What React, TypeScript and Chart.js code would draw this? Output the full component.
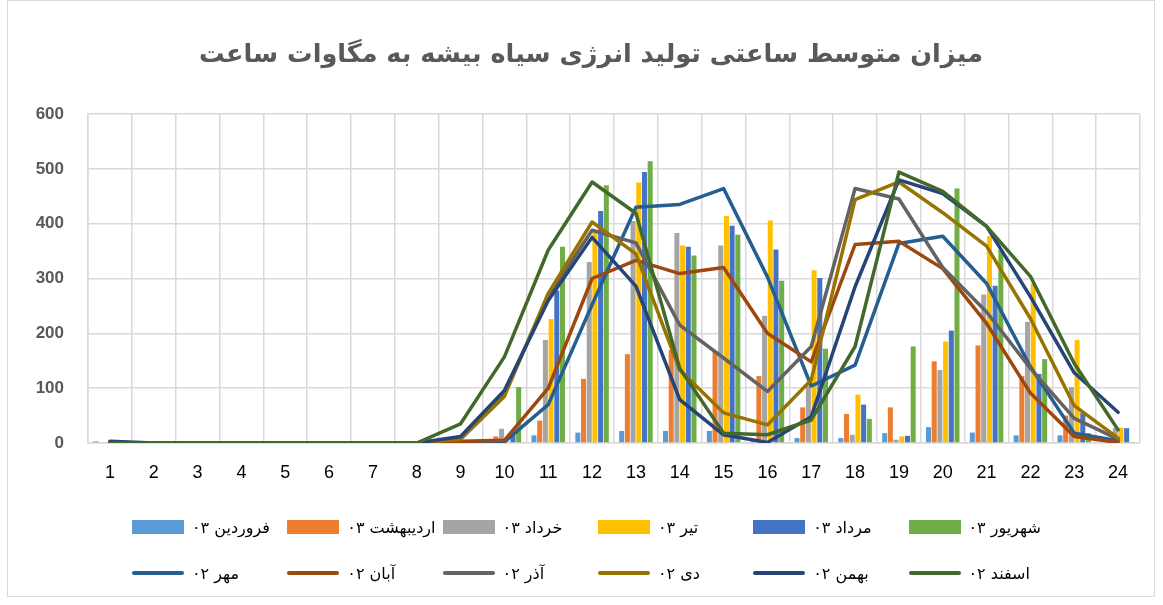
import React, { useEffect, useRef } from "react";
import { Chart, registerables } from "chart.js";

Chart.register(...registerables);

const hours = ["1", "2", "3", "4", "5", "6", "7", "8", "9", "10", "11", "12", "13", "14", "15", "16", "17", "18", "19", "20", "21", "22", "23", "24"];

// bars (year 03)
const farvardin03 = [3, 0, 0, 0, 0, 0, 0, 0, 0, 3, 14, 19, 22, 22, 22, 7, 9, 9, 18, 29, 19, 14, 14, 0];
const ordibehesht03 = [0, 0, 0, 0, 0, 0, 0, 0, 0, 12, 41, 117, 162, 170, 167, 122, 65, 53, 65, 149, 178, 122, 50, 2];
const khordad03 = [0, 0, 0, 0, 0, 0, 0, 0, 0, 26, 188, 330, 405, 383, 360, 232, 105, 15, 6, 133, 271, 221, 102, 27];
const tir03 = [0, 0, 0, 0, 0, 0, 0, 0, 0, 3, 226, 385, 475, 360, 414, 406, 315, 88, 12, 185, 377, 291, 188, 28];
const mordad03 = [0, 0, 0, 0, 0, 0, 0, 0, 0, 20, 278, 423, 494, 358, 396, 353, 301, 70, 13, 205, 287, 126, 55, 27];
const shahrivar03 = [0, 0, 0, 0, 0, 0, 0, 0, 0, 102, 358, 470, 514, 342, 380, 296, 172, 44, 176, 464, 352, 153, 18, 1];

// lines (year 02)
const mehr02 = [1, 0, 0, 0, 0, 0, 0, 0, 1, 2, 70, 252, 430, 435, 464, 303, 104, 142, 364, 377, 291, 139, 18, 4];
const aban02 = [0, 0, 0, 0, 0, 0, 0, 0, 3, 5, 100, 300, 333, 309, 320, 200, 148, 362, 368, 318, 218, 91, 12, 1];
const azar02 = [0, 0, 0, 0, 0, 0, 0, 0, 9, 91, 267, 388, 365, 215, 155, 94, 176, 464, 445, 320, 239, 136, 45, 7];
const dey02 = [0, 0, 0, 0, 0, 0, 0, 0, 7, 85, 273, 403, 345, 133, 55, 33, 115, 444, 476, 420, 359, 227, 68, 9];
const bahman02 = [3, 0, 0, 0, 0, 0, 0, 0, 12, 96, 260, 375, 286, 79, 15, 1, 48, 285, 480, 455, 395, 267, 128, 56];
const esfand02 = [0, 0, 0, 0, 0, 0, 0, 0, 35, 157, 352, 476, 419, 136, 18, 15, 42, 176, 494, 459, 395, 304, 145, 24];

const barLabels = ["فروردین ۰۳", "اردیبهشت ۰۳", "خرداد ۰۳", "تیر ۰۳", "مرداد ۰۳", "شهریور ۰۳"];
const barColors = ["#5B9BD5", "#ED7D31", "#A5A5A5", "#FFC000", "#4472C4", "#70AD47"];
const barSeries = [farvardin03, ordibehesht03, khordad03, tir03, mordad03, shahrivar03];

const lineLabels = ["مهر ۰۲", "آبان ۰۲", "آذر ۰۲", "دی ۰۲", "بهمن ۰۲", "اسفند ۰۲"];
const lineColors = ["#255E91", "#9E480E", "#636363", "#997300", "#264478", "#43682B"];
const lineSeries = [mehr02, aban02, azar02, dey02, bahman02, esfand02];

const yTicks = [0, 100, 200, 300, 400, 500, 600];

const titleText = "میزان متوسط ساعتی تولید انرژی سیاه بیشه به مگاوات ساعت";

export default function App() {
  const ref = useRef<HTMLCanvasElement | null>(null);

  useEffect(() => {
    if (!ref.current) return;
    const datasets: any[] = [];
    barSeries.forEach((d, i) => {
      datasets.push({
        type: "bar",
        label: barLabels[i],
        data: d,
        backgroundColor: barColors[i],
        borderWidth: 0,
        categoryPercentage: 0.78,
        barPercentage: 0.88,
        order: 10,
      });
    });
    lineSeries.forEach((d, i) => {
      datasets.push({
        type: "line",
        label: lineLabels[i],
        data: d,
        borderColor: lineColors[i],
        backgroundColor: lineColors[i],
        borderWidth: 3.5,
        pointRadius: 0,
        tension: 0,
        fill: false,
        borderJoinStyle: "round",
        borderCapStyle: "round",
        order: 6 - i,
      });
    });

    const chart = new Chart(ref.current, {
      type: "bar",
      data: { labels: hours, datasets },
      options: {
        animation: false,
        responsive: false,
        maintainAspectRatio: false,
        layout: { padding: { left: 8, right: 23, top: 114, bottom: 122 } },
        plugins: {
          legend: { display: false },
          title: { display: false },
          tooltip: { enabled: false },
        },
        scales: {
          x: {
            offset: true,
            grid: { offset: true, color: "#d9d9d9", lineWidth: 1.5, drawTicks: false },
            border: { color: "#d9d9d9", width: 1.5 },
            ticks: {
              padding: 19,
              color: "#000000",
              maxRotation: 0,
              autoSkip: false,
              font: { family: "'Liberation Sans', Arial, sans-serif", size: 18 },
            },
            afterFit: (s: any) => {
              s.height = 40;
            },
          },
          y: {
            min: 0,
            max: 600,
            afterBuildTicks: (s: any) => {
              s.ticks = yTicks.map((v) => ({ value: v }));
            },
            grid: { color: "#d9d9d9", lineWidth: 1.5, drawTicks: false },
            border: { color: "#d9d9d9", width: 1.5 },
            ticks: {
              padding: 24,
              color: "#595959",
              font: { family: "'Liberation Sans', Arial, sans-serif", size: 17, weight: "bold" },
            },
            afterFit: (s: any) => {
              s.width = 80;
            },
          },
        },
      },
    });
    return () => chart.destroy();
  }, []);

  const legendItem = (label: string, color: string, isLine: boolean, col: number, row: number) => (
    <div
      key={label}
      style={{
        position: "absolute",
        left: 132 + col * 155.3,
        top: row === 0 ? 517 : 563,
        height: 20,
        display: "flex",
        alignItems: "center",
        whiteSpace: "nowrap",
      }}
    >
      {isLine ? (
        <div style={{ width: 52, height: 4, background: color, borderRadius: 2 }} />
      ) : (
        <div style={{ width: 52, height: 14, background: color }} />
      )}
      <span
        dir="rtl"
        style={{
          marginLeft: 8,
          fontFamily: "'DejaVu Sans', sans-serif",
          fontSize: 16,
          color: "#000000",
          unicodeBidi: "isolate",
        }}
      >
        {label}
      </span>
    </div>
  );

  return (
    <div style={{ position: "fixed", left: 0, top: 0, width: 1163, height: 605, background: "#ffffff" }}>
      <div
        style={{
          position: "absolute",
          left: 7,
          top: 0,
          width: 1148,
          height: 597,
          border: "1px solid #d9d9d9",
          boxSizing: "border-box",
        }}
      />
      <canvas ref={ref} width={1163} height={605} style={{ position: "absolute", left: 0, top: 0, width: 1163, height: 605 }} />
      <div
        dir="rtl"
        style={{
          position: "absolute",
          left: 0,
          top: 33,
          width: 1182,
          textAlign: "center",
          fontFamily: "'DejaVu Sans', sans-serif",
          fontWeight: "bold",
          fontSize: 25.5,
          color: "#595959",
          lineHeight: "40px",
        }}
      >
        {titleText}
      </div>
      {barLabels.map((l, i) => legendItem(l, barColors[i], false, i, 0))}
      {lineLabels.map((l, i) => legendItem(l, lineColors[i], true, i, 1))}
    </div>
  );
}
